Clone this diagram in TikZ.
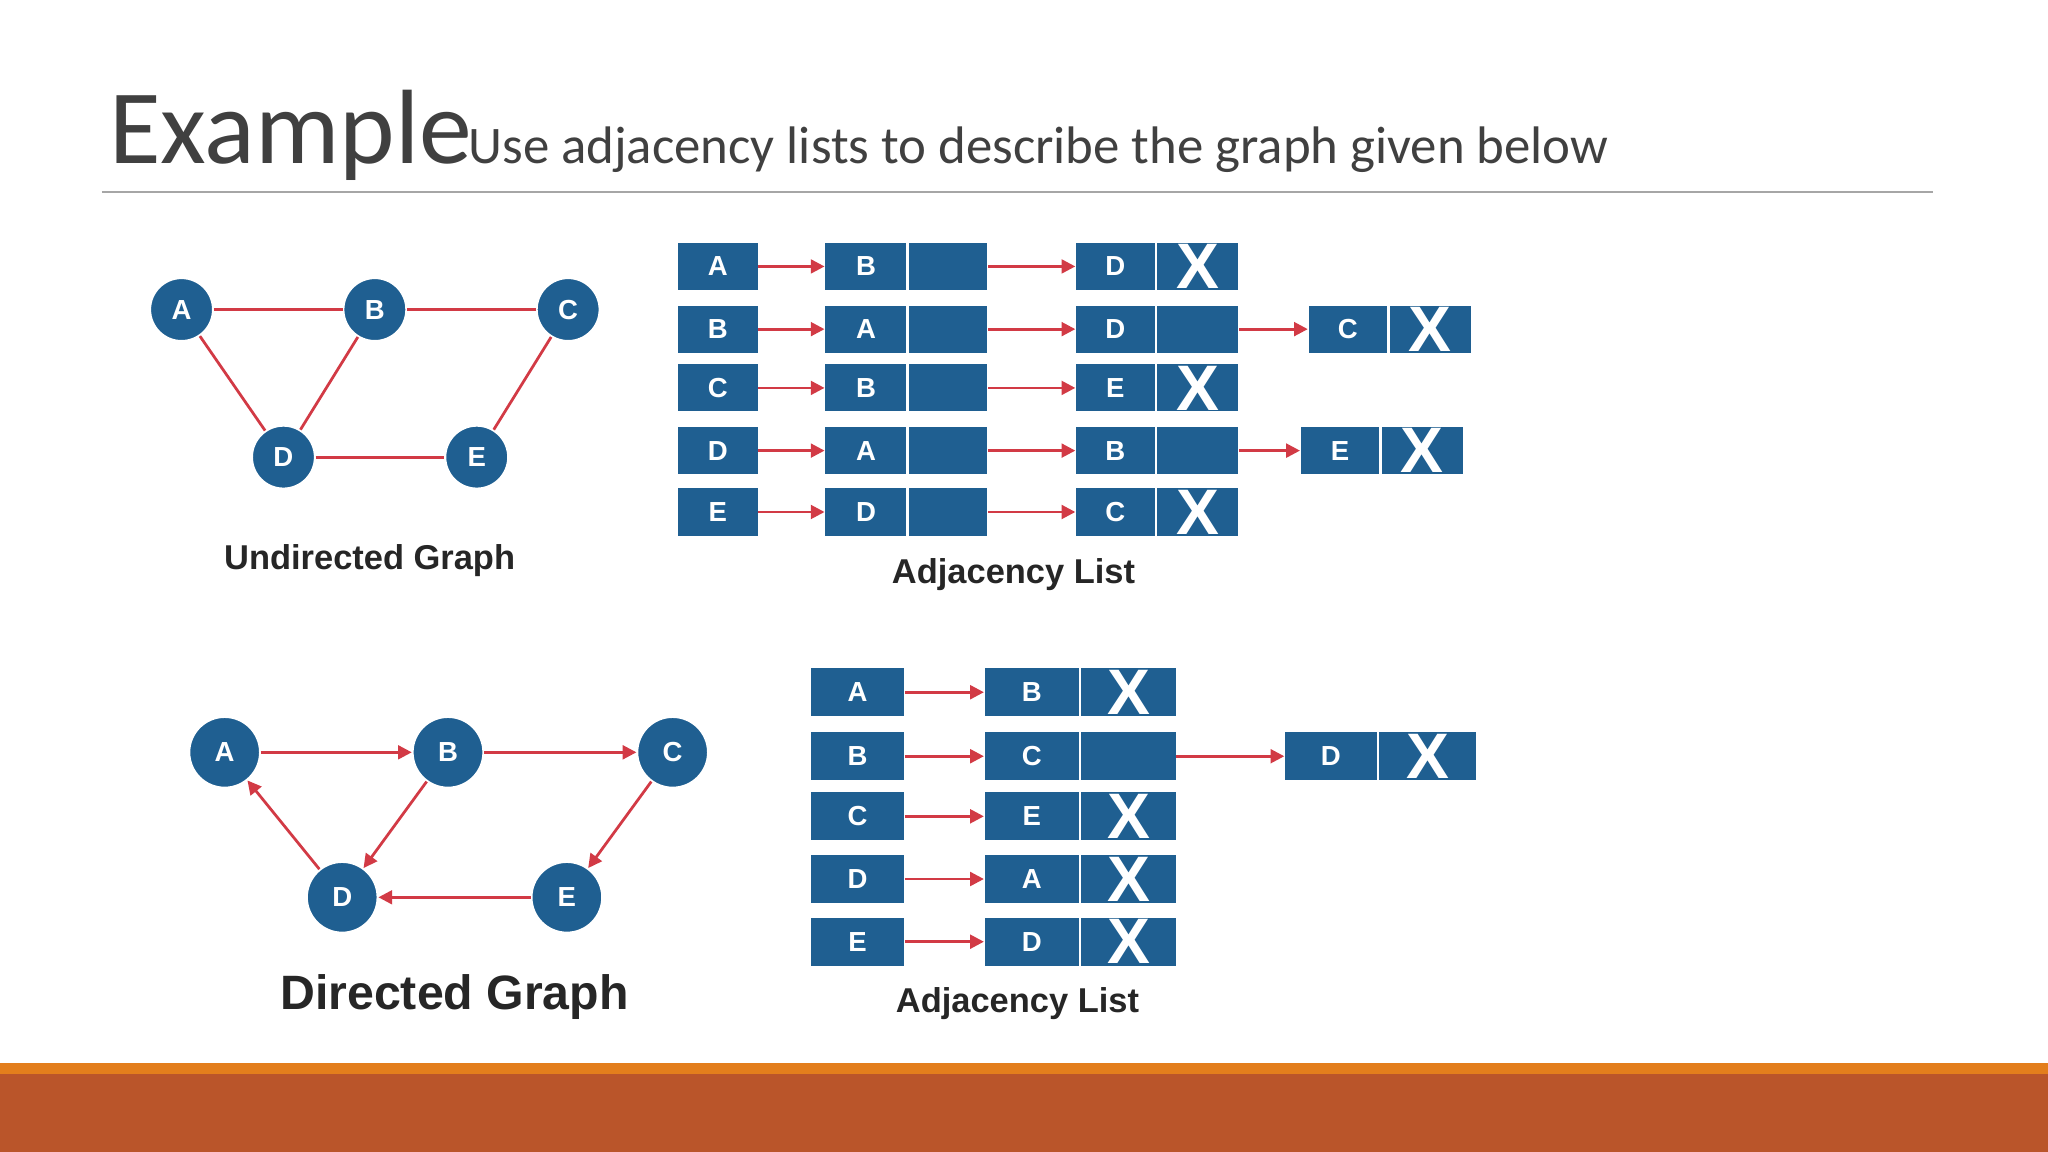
\documentclass[tikz,border=0pt]{standalone}
\usepackage{fontspec}
\setmainfont{Carlito}
\newfontfamily\lab{Liberation Sans}
\usetikzlibrary{arrows.meta}
\definecolor{bx}{HTML}{1F5F91}
\definecolor{rd}{HTML}{D23A45}
\definecolor{rust}{HTML}{BA552A}
\definecolor{org}{HTML}{E37E1C}
\tikzset{
 vtx/.style={circle,fill=bx,draw=white,line width=0.4pt,text=white,font=\lab\fontsize{6}{6}\selectfont\bfseries,inner sep=0},
 cell/.style={fill=bx,text=white,inner sep=0,font=\lab\fontsize{6}{6}\selectfont\bfseries},
 edg/.style={draw=rd,line width=0.6pt},
 arr/.style={draw=rd,line width=0.6pt,-{Triangle[length=3pt,width=3pt]}},
 xs/.style={font=\lab\fontsize{13}{13}\selectfont\bfseries,text=white}
}
% cell(name,x1,x2,yc,h,text)
\newcommand{\cellbox}[6]{\node[cell,minimum width=(#3-#2)*0.01cm,minimum height=#5*0.01cm] (#1) at ({(#2+#3)/2},#4) {#6};}
\begin{document}
\begin{tikzpicture}[x=0.01cm,y=-0.01cm]
\useasboundingbox (0,0) rectangle (1568,882);
\fill[white] (0,0) rectangle (1568,882);
\fill[org] (0,814) rectangle (1568,823);
\fill[rust] (0,822) rectangle (1568,882);
\node[anchor=base west,inner sep=0,text=black!75,font=\fontsize{23}{23}\selectfont\addfontfeature{FakeBold=0}] (ttl) at (83,125) {Example};
\node[anchor=base west,inner sep=0,text=black!75,font=\fontsize{11.5}{12}\selectfont] (sub) at (358,125) {Use adjacency lists to describe the graph given below};
\draw[black!35,line width=0.5pt] (78,147) -- (1480,147);
% undirected graph
\foreach \n/\x/\y in {A/139/237,B/287/237,C/435/237,D/217/350,E/365/350}
  \node[vtx,minimum size=0.48cm] (u\n) at (\x,\y) {\n};
\foreach \a/\b in {A/B,B/C,A/D,B/D,D/E,C/E} \draw[edg] (u\a) -- (u\b);
\node[font=\lab\fontsize{7.5}{8}\selectfont\bfseries,text=black!85] (ulab) at (283,429) {Undirected Graph};
% top adjacency list
\foreach \r/\y/\h/\f/\g/\s in {A/204/A/B/D/1,B/252/B/A/D/2,C/297/C/B/E/1,D/345/D/A/B/2,E/392/E/D/C/1}{
  \cellbox{th\r}{519}{580}{\y}{36}{\h}
  \cellbox{ta\r}{632}{694}{\y}{36}{\f}
  \cellbox{tb\r}{696}{756}{\y}{36}{}
  \cellbox{tc\r}{824}{884}{\y}{36}{\g}
  \ifnum\s=1 \cellbox{td\r}{886}{948}{\y}{36}{\tikzset{}\lab\fontsize{14}{14}\selectfont X}
  \else \cellbox{td\r}{886}{948}{\y}{36}{}\fi
  \draw[arr] (th\r) -- (ta\r);
  \draw[arr] (tb\r) -- (tc\r);
}
\cellbox{teB}{1002}{1062}{252}{36}{C}
\cellbox{tfB}{1064}{1126}{252}{36}{\lab\fontsize{14}{14}\selectfont X}
\cellbox{teD}{996}{1056}{345}{36}{E}
\cellbox{tfD}{1058}{1120}{345}{36}{\lab\fontsize{14}{14}\selectfont X}
\draw[arr] (tdB) -- (teB);
\draw[arr] (tdD) -- (teD);
\node[font=\lab\fontsize{7.5}{8}\selectfont\bfseries,text=black!85] (tlab) at (776,440) {Adjacency List};
% directed graph
\foreach \n/\x/\y in {A/172/576,B/343/576,C/515/576,D/262/687,E/434/687}
  \node[vtx,minimum size=0.54cm] (d\n) at (\x,\y) {\n};
\foreach \a/\b in {A/B,B/C,B/D,C/E,E/D,D/A} \draw[arr] (d\a) -- (d\b);
\node[font=\lab\fontsize{10.5}{11}\selectfont\bfseries,text=black!85] (dlab) at (348,763) {Directed Graph};
% bottom adjacency list
\foreach \r/\y/\f/\s in {A/530/B/1,B/579/C/2,C/625/E/1,D/673/A/1,E/721/D/1}{
  \cellbox{bh\r}{621}{692}{\y}{37}{\r}
  \cellbox{ba\r}{754}{826}{\y}{37}{\f}
  \ifnum\s=1 \cellbox{bb\r}{828}{900}{\y}{37}{\lab\fontsize{14}{14}\selectfont X}
  \else \cellbox{bb\r}{828}{900}{\y}{37}{}\fi
  \draw[arr] (bh\r) -- (ba\r);
}
\cellbox{bcB}{984}{1054}{579}{37}{D}
\cellbox{bdB}{1056}{1130}{579}{37}{\lab\fontsize{14}{14}\selectfont X}
\draw[arr] (bbB) -- (bcB);
\node[font=\lab\fontsize{7.5}{8}\selectfont\bfseries,text=black!85] (blab) at (779,768) {Adjacency List};
\end{tikzpicture}
\end{document}
